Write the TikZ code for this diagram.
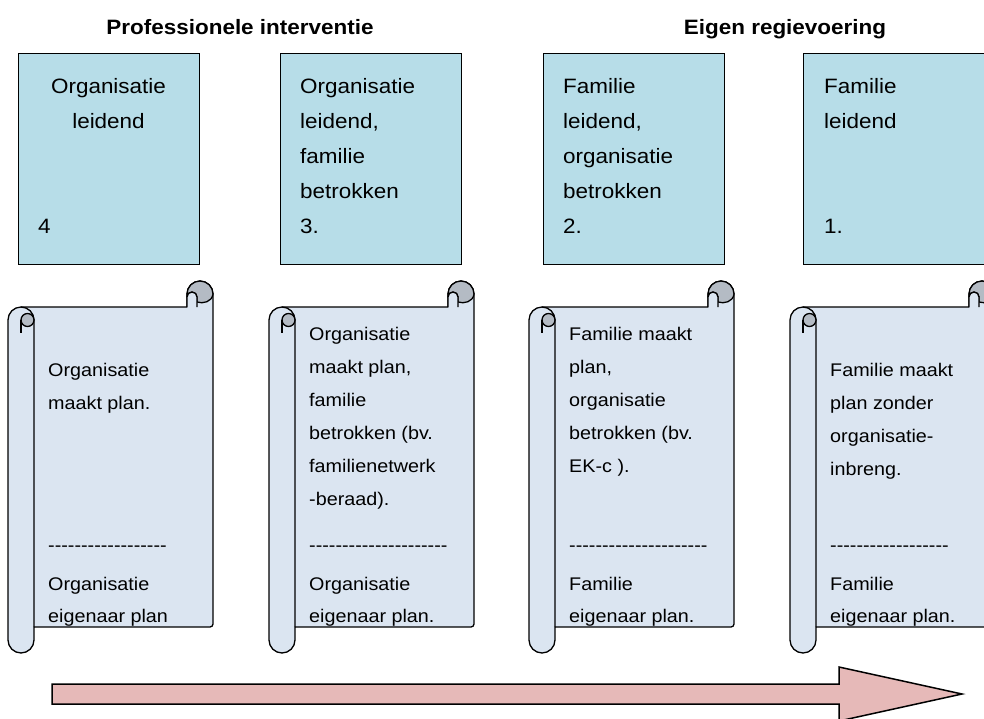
\documentclass[tikz,border=0pt]{standalone}
\usepackage{fontspec}
\newfontfamily\arial{Liberation Sans}[FakeStretch=1.08]
\definecolor{boxblue}{HTML}{B7DDE8}
\definecolor{scrollblue}{HTML}{DBE5F1}
\definecolor{curlgray}{HTML}{B4BBC4}
\definecolor{arrowpink}{HTML}{E6B9B8}
\newcommand\hyph[1]{\foreach \k in {1,...,#1}{-\kern0pt}}
\newcommand\scrollpic[2]{%
\begin{scope}[xshift=#1pt]
  \draw[scrollline, fill=scrollblue]
    (8,640) -- (8,320) arc[start angle=180,end angle=270,radius=13]
    -- (187,307) -- (187,294) arc[start angle=180,end angle=360,radius=13]
    -- (213,624) arc[start angle=0,end angle=90,radius=3]
    -- (34,627) -- (34,640) arc[start angle=0,end angle=180,radius=13] -- cycle;
  \draw[scrollline] (21,307) arc[start angle=270,end angle=360,radius=13] -- (34,627);
  \draw[scrollline, fill=curlgray] (27.5,320) circle[radius=6.5];
  \draw[scrollline] (21,320) -- (21,333);
  \draw[scrollline, fill=curlgray] (187,297) -- (187,294) arc[start angle=180,end angle=360,radius=13]
    .. controls (212,302) and (203,304) .. (197,302) -- (197,297)
    arc[start angle=360,end angle=180,radius=5] -- cycle;
  \draw[scrollline, fill=scrollblue] (187,307) -- (187,297) arc[start angle=180,end angle=360,radius=5] -- (197,307);
  \begin{scope}
    \clip (34,307) rectangle (213,627);
    #2
  \end{scope}
\end{scope}}
\begin{document}
\begin{tikzpicture}[x=1pt,y=-1pt,
  boxst/.style={draw=black, line width=1.3pt, fill=boxblue, minimum width=181pt, minimum height=211pt, anchor=north west, inner sep=0pt},
  scrollline/.style={draw=black, line width=1.3pt, line join=round},
  bt/.style={font=\arial\fontsize{20.8}{24}\selectfont, inner sep=0pt, anchor=base west},
  btc/.style={font=\arial\fontsize{20.8}{24}\selectfont, inner sep=0pt, anchor=base},
  st/.style={font=\arial\fontsize{18.3}{22}\selectfont, inner sep=0pt, anchor=base west},
  tt/.style={font=\arial\bfseries\fontsize{20.8}{24}\selectfont, inner sep=0pt, anchor=base},
  arrowst/.style={draw=black, line width=1.5pt, fill=arrowpink, line join=miter}]
\useasboundingbox (0,0) rectangle (984,718);

% titles
\node[tt] (t1) at (240,34) {Professionele interventie};
\node[tt] (t2) at (785,34) {Eigen regievoering};

% top boxes
\node[boxst] (b1) at (18,53) {};
\node[boxst] (b2) at (280,53) {};
\node[boxst] (b3) at (543,53) {};
\node[boxst] (b4) at (803,53) {};

\node[btc] (b1a) at (108.5,93) {Organisatie};
\node[btc] (b1b) at (108.5,128) {leidend};
\node[bt] (b1n) at (38,233) {4};

\node[bt] (b2a) at (300,93) {Organisatie};
\node[bt] (b2b) at (300,128) {leidend,};
\node[bt] (b2c) at (300,163) {familie};
\node[bt] (b2d) at (300,198) {betrokken};
\node[bt] (b2n) at (300,233) {3.};

\node[bt] (b3a) at (563,93) {Familie};
\node[bt] (b3b) at (563,128) {leidend,};
\node[bt] (b3c) at (563,163) {organisatie};
\node[bt] (b3d) at (563,198) {betrokken};
\node[bt] (b3n) at (563,233) {2.};

\node[bt] (b4a) at (824,93) {Familie};
\node[bt] (b4b) at (824,128) {leidend};
\node[bt] (b4n) at (824,233) {1.};

% scrolls
\scrollpic{0}{%
  \node[st] (s1a) at (48,376) {Organisatie};
  \node[st] (s1b) at (48,409) {maakt plan.};
  \node[st] (s1d) at (48,551) {\hyph{18}};
  \node[st] (s1e) at (48,590) {Organisatie};
  \node[st] (s1f) at (48,622) {eigenaar plan};
}
\scrollpic{261}{%
  \node[st] (s2a) at (48,340) {Organisatie};
  \node[st] (s2b) at (48,373) {maakt plan,};
  \node[st] (s2c) at (48,406) {familie};
  \node[st] (s2g) at (48,439) {betrokken (bv.};
  \node[st] (s2h) at (48,472) {familienetwerk};
  \node[st] (s2i) at (48,505) {-beraad).};
  \node[st] (s2d) at (48,551) {\hyph{21}};
  \node[st] (s2e) at (48,590) {Organisatie};
  \node[st] (s2f) at (48,622) {eigenaar plan.};
}
\scrollpic{521}{%
  \node[st] (s3a) at (48,340) {Familie maakt};
  \node[st] (s3b) at (48,373) {plan,};
  \node[st] (s3c) at (48,406) {organisatie};
  \node[st] (s3g) at (48,439) {betrokken (bv.};
  \node[st] (s3h) at (48,472) {EK-c ).};
  \node[st] (s3d) at (48,551) {\hyph{21}};
  \node[st] (s3e) at (48,590) {Familie};
  \node[st] (s3f) at (48,622) {eigenaar plan.};
}
\scrollpic{782}{%
  \node[st] (s4a) at (48,376) {Familie maakt};
  \node[st] (s4b) at (48,409) {plan zonder};
  \node[st] (s4c) at (48,442) {organisatie-};
  \node[st] (s4g) at (48,475) {inbreng.};
  \node[st] (s4d) at (48,551) {\hyph{18}};
  \node[st] (s4e) at (48,590) {Familie};
  \node[st] (s4f) at (48,622) {eigenaar plan.};
}

% arrow
\draw[arrowst] (52,684) -- (839,684) -- (839,667) -- (962,694) -- (839,721) -- (839,704) -- (52,704) -- cycle;
\end{tikzpicture}
\end{document}
